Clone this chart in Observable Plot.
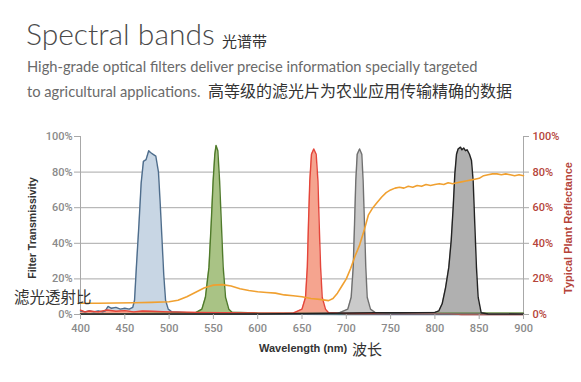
<!DOCTYPE html>
<html>
<head>
<meta charset="utf-8">
<script src="https://cdn.jsdelivr.net/npm/d3@7"></script>
<script src="https://cdn.jsdelivr.net/npm/@observablehq/plot@0.6"></script>
<style>
  body { margin: 0; background: #fff; }
  #wrap { position: relative; width: 581px; height: 382px; overflow: hidden; font-family: Lato, "Open Sans", sans-serif; }
  .abs { position: absolute; white-space: nowrap; }
  #title { left: 26px; top: 15px; font-size: 30px; font-weight: 300; color: #4a4a4a; }
  #titleCn { left: 222px; top: 30px; font-size: 15px; color: #333; font-family: "Noto Sans CJK SC"; }
  .sub { left: 27px; font-size: 14.7px; color: #6a6a6a; }
  #sub1 { top: 57px; }
  #sub2 { top: 78px; }
  .cn { font-family: "Noto Sans CJK SC"; color: #333; font-size: 16px; }
  #plot { position: absolute; left: 0; top: 120px; }
  #ylab { left: 32px; top: 228px; transform: translate(-50%, -50%) rotate(-90deg); font: bold 10.5px "Liberation Sans", Arial, sans-serif; color: #333; }
  #ylab2 { left: 568px; top: 228px; transform: translate(-50%, -50%) rotate(-90deg); font: bold 11px "Liberation Sans", Arial, sans-serif; color: #b5443a; }
  #xlab { left: 259px; top: 342px; font: bold 11px "Liberation Sans", Arial, sans-serif; color: #333; }
  #xlabCn { left: 352px; top: 338px; font-size: 15px; font-family: "Noto Sans CJK SC"; color: #333; }
  #annot { left: 14px; top: 285px; font-size: 15.5px; font-family: "Noto Sans CJK SC"; color: #333; }
</style>
</head>
<body>
<div id="wrap">
  <div class="abs" id="title">Spectral bands</div>
  <div class="abs" id="titleCn">光谱带</div>
  <div class="abs sub" id="sub1">High-grade optical filters deliver precise information specially targeted</div>
  <div class="abs sub" id="sub2">to agricultural applications.&nbsp; <span class="cn">高等级的滤光片为农业应用传输精确的数据</span></div>
  <div id="plot"></div>
  <div class="abs" id="ylab">Filter Transmissivity</div>
  <div class="abs" id="ylab2">Typical Plant Reflectance</div>
  <div class="abs" id="xlab">Wavelength (nm)</div>
  <div class="abs" id="xlabCn">波长</div>
  <div class="abs" id="annot">滤光透射比</div>
</div>
<script>
// Tick labels
const xTicks = [400, 450, 500, 550, 600, 650, 700, 750, 800, 850, 900];
const yTicks = [0, 20, 40, 60, 80, 100];

// Filter transmissivity (%) — blue filter
const blueNm = [400, 405, 410, 415, 420, 425, 428, 431, 435, 440, 445, 450, 455, 459, 461, 463, 466, 468.5, 471, 474, 477, 479, 482, 485, 488, 490, 492, 494, 496, 499, 503, 520, 560, 600, 700, 900];
const blueT  = [2, 1.5, 2, 1.5, 2, 1.5, 2, 4.5, 3.5, 4, 3, 3.5, 3, 4, 8, 26, 51, 74, 86, 87, 92, 91, 90, 89, 80, 62, 42, 22, 8, 3, 1.5, 1, 0.5, 0.3, 0, 0];

// green filter
const greenNm = [400, 450, 500, 530, 537, 541, 545, 547.5, 549.7, 551.6, 553, 555, 557, 559, 561, 563.7, 567.4, 571, 600, 700, 820, 900];
const greenT  = [0.5, 0.5, 0.8, 1, 3, 9.7, 26.6, 51, 75, 90, 95, 92, 75, 51, 27, 9.7, 3, 1.3, 0.8, 0.5, 0.8, 0.8];

// red filter
const redNm = [400, 405, 410, 420, 430, 440, 450, 460, 470, 480, 500, 530, 560, 600, 640, 650, 654, 656, 657.3, 658.8, 660.7, 663.3, 666, 668, 669.4, 671, 672.8, 676.5, 680, 700, 750, 815, 830, 900];
const redT  = [2.5, 1.5, 2, 1.5, 2.5, 1.8, 2.2, 1.5, 2, 1.8, 1.5, 1.2, 1, 0.8, 0.8, 3, 9.7, 26.6, 51, 75, 90, 93, 90, 75, 51, 26.6, 9.7, 3, 1, 0.6, 0.6, 0.5, 0, 0];

// light gray filter
const grayNm = [400, 600, 690, 701.7, 705.5, 707.8, 709.3, 710.7, 712.3, 715, 717.5, 719, 720.5, 722, 723.6, 727.3, 733, 760, 900];
const grayT  = [0.3, 0.3, 0.5, 3, 9.7, 26.6, 51, 75, 90, 93, 90, 75, 51, 26.6, 9.7, 3, 1, 0.5, 0.3];

// dark gray filter
const darkNm = [400, 600, 735, 760, 800, 804.4, 808.2, 812, 815.7, 818.4, 820.6, 822.5, 824.4, 826.2, 828.9, 830.5, 832.6, 834.5, 836.4, 839, 841.3, 843.2, 845, 846.9, 848.8, 852.2, 860, 900];
const darkT  = [0.2, 0.3, 1, 1, 1.2, 2, 6, 15, 26.6, 41.6, 60, 79, 90, 93, 94, 92.5, 93.5, 92, 92.5, 90, 86.5, 75, 51, 26.6, 9.7, 1, 0.3, 0.2];

// Typical plant reflectance (%) — orange
const reflNm = [400, 420, 440, 460, 480, 500, 510, 520, 530, 540, 550, 560, 570, 580, 590, 600, 610, 620, 630, 640, 650, 660, 670, 680, 685, 690, 695, 700, 705, 710, 715, 720, 725, 730, 735, 740, 745, 750, 755, 760, 765, 770, 775, 780, 785, 790, 795, 800, 805, 810, 815, 820, 825, 830, 835, 840, 845, 850, 855, 860, 865, 870, 875, 880, 885, 890, 895, 900];
const reflR  = [6.3, 6.3, 6.5, 6.6, 6.8, 7.2, 8, 10, 12.5, 15, 16.5, 16.8, 16, 14.5, 13.5, 12.8, 12.4, 12, 11, 10.5, 10, 9, 8.5, 7.8, 9, 12, 16, 20, 26, 33, 39, 47, 56, 60, 63, 66, 68.5, 70, 71, 71.5, 71, 72, 71.5, 72.5, 72, 73, 72.5, 73, 73.5, 73, 74, 73.5, 74, 74.5, 75, 75.5, 76, 76.5, 78, 78.5, 79, 79, 78.5, 79, 78.5, 78, 78.5, 78];

const zip = (xs, ys) => xs.map((x, i) => ({x, y: ys[i]}));
const filters = [
  {data: zip(blueNm, blueT),  fill: "#c8d6e4", stroke: "#4e6d8c"},
  {data: zip(greenNm, greenT), fill: "#a9c385", stroke: "#4f7a2a"},
  {data: zip(redNm, redT),    fill: "#f5a48f", stroke: "#e4453a"},
  {data: zip(grayNm, grayT),  fill: "#cacaca", stroke: "#707070"},
  {data: zip(darkNm, darkT),  fill: "#b0b0b0", stroke: "#222222"}
];
const refl = zip(reflNm, reflR);

const marks = [
  Plot.ruleY([0, 20, 40, 60, 80], {stroke: "#a8a8a8", strokeWidth: 1}),
  Plot.ruleX([400, 900], {y1: 0, y2: 100, stroke: "#a8a8a8"}),
];
for (const f of filters) {
  marks.push(Plot.areaY(f.data, {x: "x", y: "y", fill: f.fill}));
}
for (const f of filters) {
  marks.push(Plot.lineY(f.data, {x: "x", y: "y", stroke: f.stroke, strokeWidth: 1.4}));
}
marks.push(Plot.lineY(refl, {x: "x", y: "y", stroke: "#f0a030", strokeWidth: 1.6}));
marks.push(Plot.axisY({ticks: yTicks, tickFormat: d => d + "%", tickSize: 6, tickPadding: 2, label: null, stroke: "#a8a8a8", color: "#8a8a8a", fontSize: 11}));
marks.push(Plot.axisY({anchor: "right", ticks: yTicks, tickFormat: d => d + "%", tickSize: 5, tickPadding: 4, label: null, stroke: "#a8a8a8", color: "#b5443a", fontSize: 11}));
marks.push(Plot.axisX({ticks: xTicks, tickSize: 5, tickPadding: 5, label: null, stroke: "#a8a8a8", color: "#8a8a8a", fontSize: 11}));

const chart = Plot.plot({
  width: 581,
  height: 262,
  marginTop: 16,
  marginBottom: 68,
  marginLeft: 80,
  marginRight: 58,
  x: {domain: [400, 900]},
  y: {domain: [0, 100]},
  style: {fontFamily: "Roboto, 'Liberation Sans', sans-serif", fontWeight: 500, background: "transparent"},
  marks
});
document.getElementById("plot").appendChild(chart);
</script>
</body>
</html>
